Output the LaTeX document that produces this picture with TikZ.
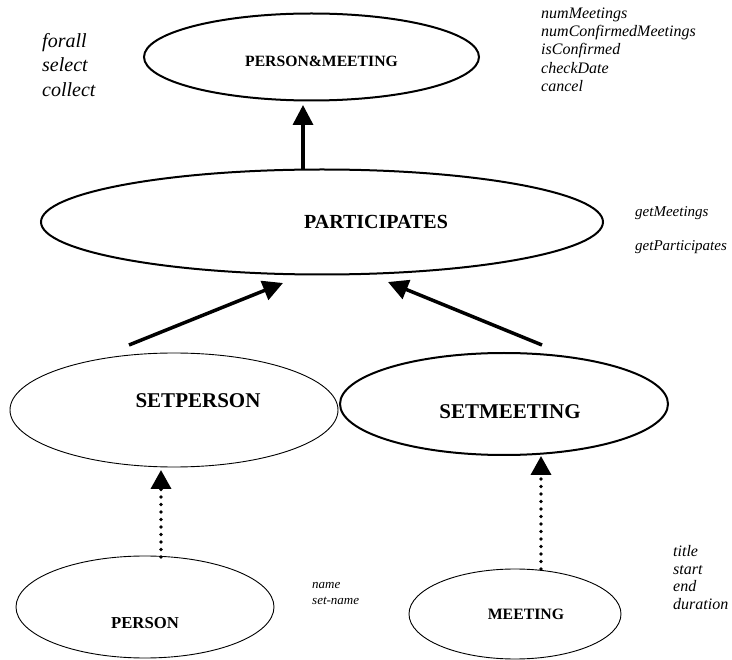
\documentclass[tikz,border=0pt]{standalone}
\usepackage{fontspec}
\setmainfont{Liberation Serif}
\usetikzlibrary{shapes.geometric,arrows.meta}
\begin{document}
\begin{tikzpicture}[x=1pt,y=-1pt,
  class/.style={ellipse,draw,inner sep=0pt},
  thinclass/.style={class,line width=0.9pt},
  thickclass/.style={class,line width=2pt},
  clsname/.style={inner sep=0pt,font=\bfseries\fontsize{#1}{#1}\selectfont},
  oplist/.style 2 args={inner sep=0pt,anchor=west,align=left,
    font=\itshape\fontsize{#1}{#2}\selectfont},
  link/.style={line width=3.5pt,-{Triangle[length=20pt,width=20pt]}},
  dotlink/.style={line width=3.6pt,line cap=round,dash pattern=on 0pt off 7.5pt,
    -{Triangle[length=19pt,width=20pt]}}
]
\useasboundingbox (0,0) rectangle (732,660);

% class ellipses
\node[thickclass,minimum width=335pt,minimum height=87pt] (pm) at (311.5,57) {};
\node[thickclass,minimum width=562pt,minimum height=105pt] (part) at (322,222) {};
\node[thinclass,minimum width=328pt,minimum height=114pt] (sp) at (174,410) {};
\node[thickclass,minimum width=328pt,minimum height=102pt] (sm) at (504,404) {};
\node[thinclass,minimum width=258pt,minimum height=102pt] (pers) at (145,607) {};
\node[thinclass,minimum width=212pt,minimum height=90pt] (meet) at (515,614) {};

% class names
\node[clsname=15.7] (pmname) at (321.5,61) {PERSON\&MEETING};
\node[clsname=20] (partname) at (376,222) {PARTICIPATES};
\node[clsname=21] (spname) at (198,401) {SETPERSON};
\node[clsname=21] (smname) at (510,412) {SETMEETING};
\node[clsname=16.7] (persname) at (145,623) {PERSON};
\node[clsname=15.8] (meetname) at (526,614) {MEETING};

% operation lists
\node[oplist={20}{24.5}] (iter) at (42,65) {forall\\select\\collect};
\node[oplist={16}{18.3}] (pmops) at (541,49.5) {numMeetings\\numConfirmedMeetings\\isConfirmed\\checkDate\\cancel};
\node[oplist={15}{15}] (getm) at (635,213) {getMeetings};
\node[oplist={15}{15}] (getp) at (635,247) {getParticipates};
\node[oplist={13}{16}] (persops) at (312,594) {name\\set-name};
\node[oplist={16}{17.5}] (meetops) at (673,577.5) {title\\start\\end\\duration};

% connector end points
\coordinate (upS) at (303,170);
\coordinate (upT) at (303,105);
\coordinate (lS) at (129,345);
\coordinate (lT) at (283,283);
\coordinate (rS) at (542,345);
\coordinate (rT) at (388,282);
\coordinate (dpS) at (161,557);
\coordinate (dpT) at (161,470);
\coordinate (dmS) at (541,569);
\coordinate (dmT) at (541,456);

% connectors
\draw[link] (upS) -- (upT);
\draw[link] (lS) -- (lT);
\draw[link] (rS) -- (rT);
\draw[dotlink] (dpS) -- (dpT);
\draw[dotlink] (dmS) -- (dmT);
\end{tikzpicture}
\end{document}
